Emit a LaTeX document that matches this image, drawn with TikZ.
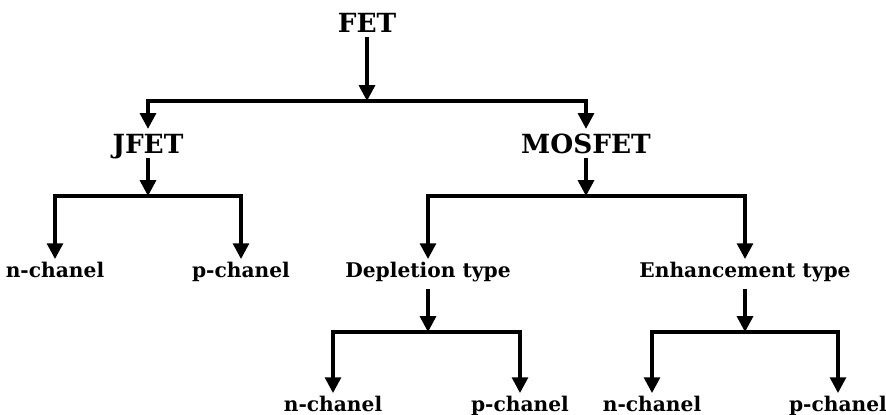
\documentclass[tikz,border=0pt]{standalone}
\usepackage{fontspec}
\setmainfont{DejaVu Serif}
\usetikzlibrary{arrows.meta}

\begin{document}
\begin{tikzpicture}[x=0.02cm,y=-0.02cm]

        \tikzstyle{every node}=[anchor=base,font=\bfseries]
        \tikzstyle{big}=[font=\fontsize{15}{18}\selectfont\bfseries, text height=11pt, text depth=0pt, inner sep=2.5pt]
        \tikzstyle{small}=[font=\fontsize{11.5}{13}\selectfont\bfseries, text height=8pt, text depth=4.5pt, inner sep=2pt]
        \tikzstyle{link}=[line width=2pt, -{Triangle[length=9pt,width=9pt]}]

        \useasboundingbox (0,0) rectangle (886,414);

        \node[big] (fet) at (367,32) {FET};
        \node[big] (jfet) at (148,153) {JFET};
        \node[big] (mosfet) at (586,153) {MOSFET};

        \node[small] (jn) at (55,277) {n-chanel};
        \node[small] (jp) at (241,277) {p-chanel};
        \node[small] (dep) at (428,277) {Depletion type};
        \node[small] (enh) at (745,277) {Enhancement type};

        \foreach \n / \x / \t in {dn/333/n,dp/520/p,en/652/n,ep/838/p} {
            \node[small] (\n) at (\x,411) {\t-chanel};
        }

        % stems into the bars
        \foreach \a / \y in {fet/101,jfet/196,mosfet/196,dep/332,enh/332}
            \draw[link] (\a) -- (\a |- 0,\y);

        % bars down to the children
        \foreach \a / \b / \y in {fet/jfet/101,fet/mosfet/101,jfet/jn/196,jfet/jp/196,mosfet/dep/196,mosfet/enh/196,dep/dn/332,dep/dp/332,enh/en/332,enh/ep/332}
            \draw[link] (\a |- 0,\y) -| (\b);

    \end{tikzpicture}
\end{document}
